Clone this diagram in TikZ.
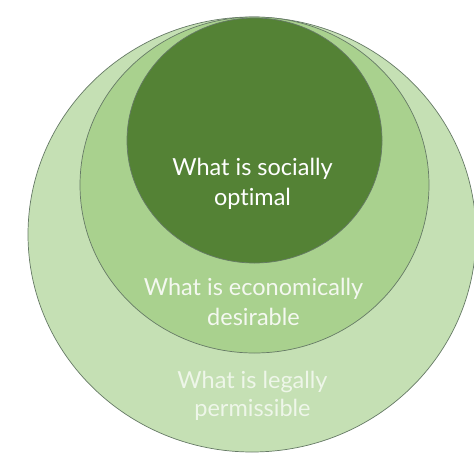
\documentclass[tikz,border=0pt]{standalone}
\usepackage{fontspec}
\setmainfont{Lato}[Ligatures=NoCommon]
\definecolor{outerfill}{HTML}{C5E0B4}
\definecolor{midfill}{HTML}{A9D18E}
\definecolor{innerfill}{HTML}{548235}
\definecolor{rim}{HTML}{667A66}
\definecolor{outertext}{HTML}{EEF6E9}
\definecolor{midtext}{HTML}{F4F8F0}
\tikzset{
  ring/.style={draw=rim, line width=0.7pt},
  lbl/.style={anchor=base, inner sep=0pt, font=\fontsize{23.5}{28}\selectfont}
}
\begin{document}
\begin{tikzpicture}[x=1pt,y=-1pt]
\useasboundingbox (0,0) rectangle (474,474);
\clip (0,0) rectangle (474,474);
\fill[white] (0,0) rectangle (474,474);
\draw[ring, fill=outerfill] (252,234.5) ellipse [x radius=224, y radius=217.5];
\draw[ring, fill=midfill] (254.5,185) ellipse [x radius=174.5, y radius=168];
\draw[ring, fill=innerfill] (254.5,140.5) ellipse [x radius=127.5, y radius=122.5];
\node[lbl, text=white] (s1) at (252.5,175.5) {What is socially};
\node[lbl, text=white] (s2) at (252.5,205) {optimal};
\node[lbl, text=midtext] (e1) at (253.5,295) {What is economically};
\node[lbl, text=midtext] (e2) at (253.5,325) {desirable};
\node[lbl, text=outertext] (l1) at (252.5,388) {What is legally};
\node[lbl, text=outertext] (l2) at (252.5,416) {permissible};
\end{tikzpicture}
\end{document}
